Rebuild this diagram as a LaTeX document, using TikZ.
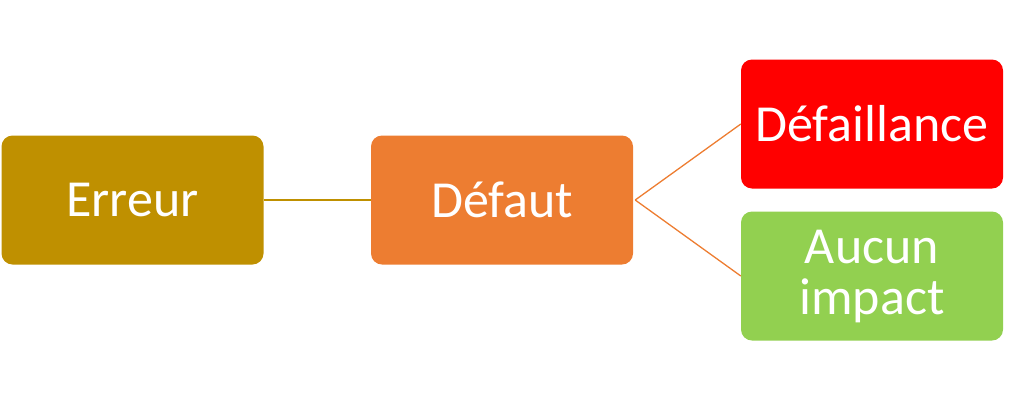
\documentclass[tikz,border=0pt]{standalone}
\usepackage{fontspec}
\setmainfont{Carlito}
\definecolor{cgold}{HTML}{BF9000}
\definecolor{corange}{HTML}{ED7D31}
\definecolor{cred}{HTML}{FF0000}
\definecolor{cgreen}{HTML}{92D050}
\tikzset{
  boxnode/.style={rectangle, rounded corners=11pt, draw=none, minimum width=262pt, minimum height=129pt, inner sep=0pt, text=white, align=center, font=\fontsize{52}{51}\selectfont},
  linkline/.style={line width=1.3pt}
}
\begin{document}
\begin{tikzpicture}[x=1pt,y=-1pt]
\useasboundingbox (0,0) rectangle (1024,400);
\node[boxnode, fill=cgold] (err) at (132.5,200) {Erreur};
\node[boxnode, fill=corange] (def) at (502,200) {Défaut};
\node[boxnode, fill=cred] (fail) at (872,124) {Défaillance};
\node[boxnode, fill=cgreen] (none) at (872,276) {Aucun\\impact};
\draw[linkline, cgold] (err.east) -- (def.west);
\draw[linkline, corange] ([xshift=2pt]def.east) -- (fail.west);
\draw[linkline, corange] ([xshift=2pt]def.east) -- (none.west);
\end{tikzpicture}
\end{document}
